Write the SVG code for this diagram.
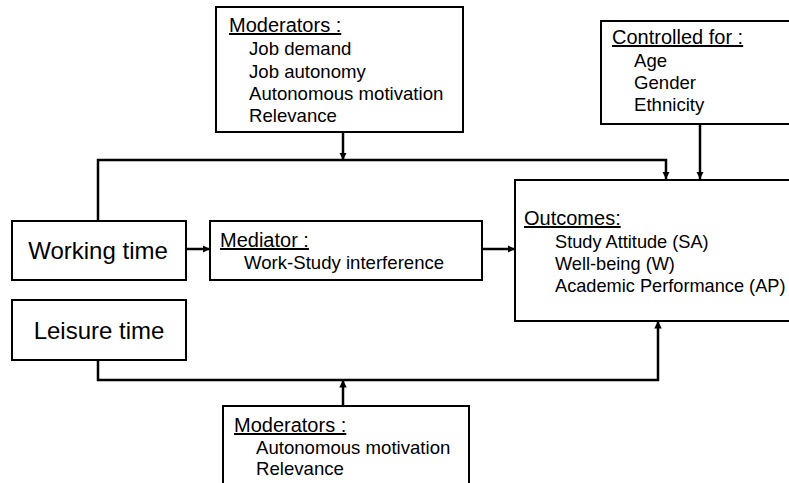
<svg xmlns="http://www.w3.org/2000/svg" width="789" height="483" viewBox="0 0 789 483">
<style>
.box{fill:#fff;stroke:#000;stroke-width:2}
.t{font-family:"Liberation Sans",Arial,sans-serif;font-size:18.6px;fill:#000}
.o{font-size:18.2px}
.h{font-family:"Liberation Sans",Arial,sans-serif;font-size:20px;fill:#000;text-decoration:underline}
.big{font-family:"Liberation Sans",Arial,sans-serif;font-size:24px;fill:#000}
.c{fill:none;stroke:#000;stroke-width:2.5}
</style>
<defs>
<marker id="ah" viewBox="0 0 10 10" refX="10" refY="5" markerWidth="3" markerHeight="3" orient="auto" markerUnits="strokeWidth">
<path d="M0,0 L10,5 L0,10 z" fill="#000"/>
</marker>
</defs>
<rect width="789" height="483" fill="#fff"/>
<g id="connectors">
<path class="c" d="M343,132 V160" marker-end="url(#ah)"/>
<path class="c" d="M98,221 V160 H666 V179" marker-end="url(#ah)"/>
<path class="c" d="M700,124 V179" marker-end="url(#ah)"/>
<path class="c" d="M186,249 H210" marker-end="url(#ah)"/>
<path class="c" d="M482,249 H515" marker-end="url(#ah)"/>
<path class="c" d="M98,360 V380 H658 V321" marker-end="url(#ah)"/>
<path class="c" d="M343,407 V380" marker-end="url(#ah)"/>
</g>
<g id="moderators-top">
<rect class="box" x="216" y="7" width="247" height="125"/>
<text class="h" x="229" y="32">Moderators :</text>
<text class="t" x="249" y="55">Job demand</text>
<text class="t" x="249" y="78">Job autonomy</text>
<text class="t" x="249" y="100">Autonomous motivation</text>
<text class="t" x="249" y="122">Relevance</text>
</g>
<g id="controlled">
<rect class="box" x="601" y="21" width="200" height="103"/>
<text class="h" x="612" y="44">Controlled for :</text>
<text class="t" x="634" y="67">Age</text>
<text class="t" x="634" y="89">Gender</text>
<text class="t" x="634" y="111">Ethnicity</text>
</g>
<g id="outcomes">
<rect class="box" x="515" y="180" width="290" height="141"/>
<text class="h" x="524" y="225">Outcomes:</text>
<text class="t o" x="555" y="248">Study Attitude (SA)</text>
<text class="t o" x="555" y="270">Well-being (W)</text>
<text class="t o" x="555" y="292">Academic Performance (AP)</text>
</g>
<g id="working">
<rect class="box" x="12" y="221" width="174" height="59"/>
<text class="big" x="98" y="259" text-anchor="middle">Working time</text>
</g>
<g id="leisure">
<rect class="box" x="12" y="300" width="174" height="60"/>
<text class="big" x="99" y="339" text-anchor="middle">Leisure time</text>
</g>
<g id="mediator">
<rect class="box" x="210" y="221" width="272" height="59"/>
<text class="h" x="220" y="247">Mediator :</text>
<text class="t" x="244" y="269">Work-Study interference</text>
</g>
<g id="moderators-bottom">
<rect class="box" x="223" y="406" width="246" height="90"/>
<text class="h" x="234" y="432">Moderators :</text>
<text class="t" x="256" y="454">Autonomous motivation</text>
<text class="t" x="256" y="475">Relevance</text>
</g>
</svg>
